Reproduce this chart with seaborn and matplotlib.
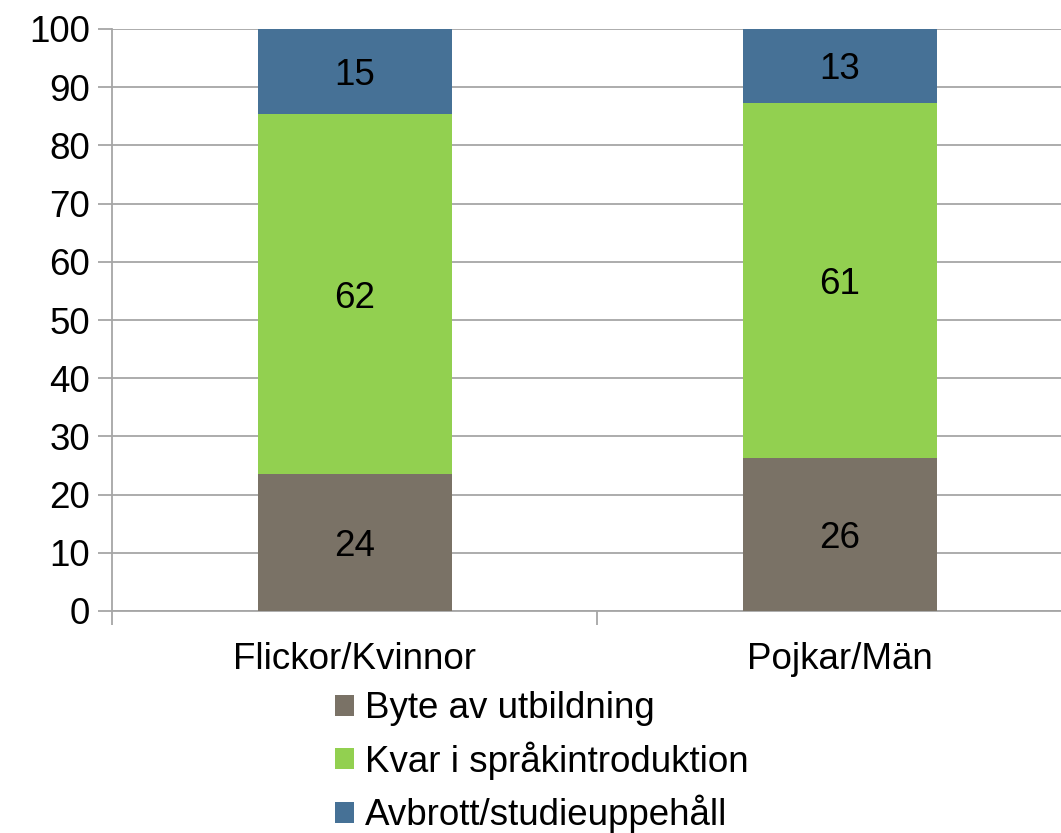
import matplotlib
matplotlib.use("Agg")
import matplotlib.pyplot as plt
from matplotlib.patches import Patch
import numpy as np
import pandas as pd
import seaborn as sns

groups = ["Flickor/Kvinnor", "Pojkar/Män"]
series = ["Byte av utbildning", "Kvar i språkintroduktion", "Avbrott/studieuppehåll"]
byte = [23.5, 26.3]
kvar = [61.9, 61.0]
avbrott = [14.6, 12.7]
colors = ["#7a7266", "#92d050", "#467196"]
yticks = list(range(0, 101, 10))

sns.set_theme(style="white")
plt.rcParams["font.family"] = ["Liberation Sans", "DejaVu Sans"]
fs = 26.5

fig = plt.figure(figsize=(10.61, 8.33), dpi=100)
# the plot area runs a bit past the right edge of the picture
ax = fig.add_axes([112 / 1061, 1 - 611 / 833, 970 / 1061, (611 - 29) / 833])

values = np.array([byte, kvar, avbrott])
cum = values.cumsum(axis=0)

# draw from the top segment down so lower ones cover them
for i in reversed(range(len(series))):
    df = pd.DataFrame({"grupp": groups, "v": cum[i]})
    sns.barplot(data=df, x="grupp", y="v", color=colors[i], width=0.4,
                saturation=1, linewidth=0, edgecolor="none", ax=ax, zorder=3)

for j in range(len(groups)):
    bottom = 0
    for i in range(len(series)):
        v = values[i, j]
        ax.text(j, bottom + v / 2, f"{round(v):d}", ha="center",
                va="center_baseline", fontsize=fs, color="black", zorder=5)
        bottom += v

ax.set_ylim(0, 100)
ax.set_xlim(-0.5, 1.5)
ax.set_yticks(yticks)
ax.set_xlabel("")
ax.set_ylabel("")
ax.yaxis.grid(True, color="#a6a6a6", linewidth=1.3, zorder=0)
ax.set_axisbelow(True)
for s in ["top", "right"]:
    ax.spines[s].set_visible(False)
for s in ["left", "bottom"]:
    ax.spines[s].set_color("#a6a6a6")
    ax.spines[s].set_linewidth(1.3)

ax.tick_params(axis="y", which="major", length=10, width=1.3, color="#a6a6a6",
               labelsize=fs, labelcolor="black", pad=6, left=True)
ax.tick_params(axis="x", which="major", length=0, labelsize=fs,
               labelcolor="black", pad=22)
ax.set_xticks([-0.5, 0.5, 1.5], minor=True)
ax.tick_params(axis="x", which="minor", length=10, width=1.3, color="#a6a6a6",
               bottom=True)

handles = [Patch(facecolor=c, edgecolor="none") for c in colors]
fig.legend(handles, series, loc="upper left",
           bbox_to_anchor=(317 / 1061, 1 - 673 / 833), frameon=False,
           fontsize=fs, labelcolor="black", handlelength=0.5, handleheight=0.5,
           handletextpad=0.3, labelspacing=0.41, borderpad=0)

fig.savefig("out.png", dpi=100)
